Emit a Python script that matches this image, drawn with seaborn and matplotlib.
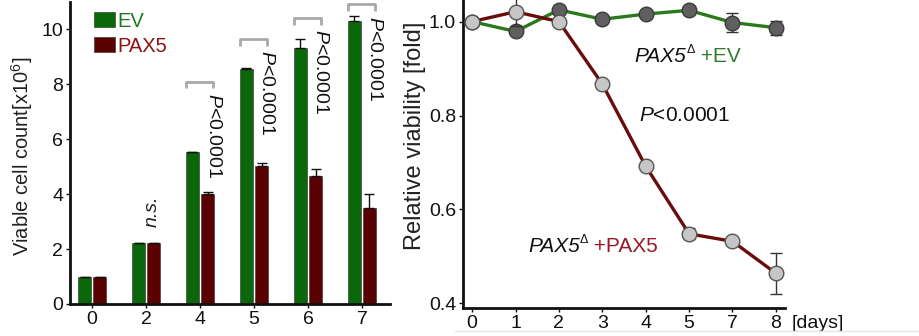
import numpy as np
import pandas as pd
import matplotlib
matplotlib.use("Agg")
import matplotlib.pyplot as plt
from matplotlib.lines import Line2D
import seaborn as sns

# ---- data: left panel (viable cell count, x10^6) ----
count_days = ["0", "2", "4", "5", "6", "7"]
ev_count = [1.0, 2.24, 5.53, 8.55, 9.33, 10.3]
ev_count_err = [0.0, 0.0, 0.02, 0.05, 0.33, 0.19]
pax5_count = [1.0, 2.24, 4.02, 5.04, 4.66, 3.5]
pax5_count_err = [0.0, 0.0, 0.07, 0.1, 0.27, 0.49]
sig_labels = ["", "n.s.", "P<0.0001", "P<0.0001", "P<0.0001", "P<0.0001"]
bracket_tops = [None, None, 8.1, 9.66, 10.43, 10.91]

# ---- data: right panel (relative viability) ----
via_days = ["0", "1", "2", "3", "4", "5", "7", "8"]
ev_via = [1.0, 0.979, 1.025, 1.005, 1.016, 1.024, 0.998, 0.987]
ev_via_err = [0.0, 0.004, 0.003, 0.007, 0.004, 0.003, 0.021, 0.015]
pax5_via = [1.0, 1.021, 1.0, 0.867, 0.692, 0.548, 0.532, 0.464]
pax5_via_err = [0.0, 0.03, 0.003, 0.004, 0.004, 0.012, 0.005, 0.044]

green_bar = "#0a680a"
red_bar = "#5a0202"
green_line = "#2a7a1c"
red_line = "#6a0c0c"

sns.set_theme(style="ticks")
plt.rcParams["font.family"] = ["Liberation Sans", "DejaVu Sans"]
plt.rcParams["mathtext.fontset"] = "custom"
plt.rcParams["mathtext.rm"] = "Liberation Sans"
plt.rcParams["mathtext.it"] = "Liberation Sans:italic"

fig = plt.figure(figsize=(9.2, 3.36), dpi=100)
ax1 = fig.add_axes([70 / 920, 1 - 304 / 336, 320 / 920, 302 / 336])
ax2 = fig.add_axes([463 / 920, 1 - 308 / 336, 322 / 920, 308 / 336])

# ---------------- left: bars ----------------
df = pd.DataFrame({
    "day": count_days * 2,
    "group": ["EV"] * len(count_days) + ["PAX5"] * len(count_days),
    "count": ev_count + pax5_count,
})
sns.barplot(data=df, x="day", y="count", hue="group", ax=ax1,
            palette={"EV": green_bar, "PAX5": red_bar}, errorbar=None,
            width=0.56, gap=0.1, legend=False, saturation=1,
            edgecolor="#2a2a2a", linewidth=0.4)

for cont, errs in zip(ax1.containers, [ev_count_err, pax5_count_err]):
    xs = [b.get_x() + b.get_width() / 2 for b in cont]
    hs = [b.get_height() for b in cont]
    ax1.errorbar(xs, hs, yerr=[np.zeros(len(errs)), errs], fmt="none",
                 ecolor="#111111", elinewidth=1, capsize=3.5, capthick=1)

for i, (lab, top) in enumerate(zip(sig_labels, bracket_tops)):
    if top is not None:
        ax1.plot([i - 0.26, i - 0.26, i + 0.24, i + 0.24],
                 [top - 0.25, top, top, top - 0.25],
                 color="#a9a9a9", lw=2, solid_capstyle="butt")
        ax1.text(i + 0.24, top - 0.42, r"$\mathit{P}$<0.0001", rotation=-90,
                 ha="center", va="top", fontsize=14, color="#111111")
    elif lab:
        ax1.text(i + 0.11, 2.8, lab, rotation=90, ha="center", va="bottom",
                 fontsize=14, style="italic", color="#222222")

leg = ax1.legend(ax1.containers, ["EV", "PAX5"], loc="upper left",
                 bbox_to_anchor=(0.075, 0.968), frameon=False, fontsize=14.5,
                 handlelength=1.05, handleheight=0.8, handletextpad=0.1,
                 labelspacing=0.3, borderpad=0, borderaxespad=0)
for t, c in zip(leg.get_texts(), ["#1d7a1d", "#8c1414"]):
    t.set_color(c)

ax1.set_xlim(-0.41, 5.52)
ax1.set_ylim(0, 11.0)
ax1.set_yticks([0, 2, 4, 6, 8, 10])
ax1.set_xlabel("")
ax1.set_ylabel(r"Viable cell count[x10$^{6}$]", fontsize=14.5, color="#222222")
ax1.yaxis.set_label_coords(-0.11, 0.49)

# ---------------- right: lines ----------------
pos = np.arange(len(via_days))
sns.lineplot(x=pos, y=ev_via, ax=ax2, color=green_line, lw=2.4)
ax2.errorbar(pos, ev_via, yerr=ev_via_err, fmt="o", ms=10.5,
             mfc="#5f5f5f", mec="#3a3a3a", mew=1, ecolor="#333333",
             elinewidth=1, capsize=4, capthick=1, zorder=3)
sns.lineplot(x=pos, y=pax5_via, ax=ax2, color=red_line, lw=2.4)
ax2.errorbar(pos, pax5_via, yerr=pax5_via_err, fmt="o", ms=10.5,
             mfc="#c6c6c6", mec="#555555", mew=1, ecolor="#333333",
             elinewidth=1, capsize=4, capthick=1, zorder=4)

ax2.set_xticks(pos)
ax2.set_xticklabels(via_days)
ax2.set_xlim(-0.21, 7.21)
ax2.set_ylim(0.39, 1.046)
ax2.set_yticks([0.4, 0.6, 0.8, 1.0])
ax2.set_yticklabels(["0.4", "0.6", "0.8", "1.0"])
ax2.set_ylabel("Relative viability [fold]", fontsize=17, color="#222222")
ax2.yaxis.set_label_coords(-0.115, 0.56)


def gene_label(x, y, suffix, color):
    t = ax2.text(x, y, "PAX5", fontsize=15, style="italic", ha="left",
                 va="baseline", color="#111111")
    d = ax2.annotate("\u0394", xy=(1, 0.52), xycoords=t, fontsize=9,
                     ha="left", va="bottom", color="#111111")
    ax2.annotate(suffix, xy=(1, 0), xycoords=(d, t), fontsize=15,
                 ha="left", va="bottom", color=color)


gene_label(3.75, 0.915, " +EV", "#2e7d2e")
gene_label(1.29, 0.51, " +PAX5", "#9e1626")
ax2.text(3.85, 0.80, r"$\mathit{P}$<0.0001", fontsize=15, ha="left",
         va="center", color="#111111")
ax2.annotate("[days]", xy=(1.02, -0.05), xycoords="axes fraction",
             ha="left", va="center", fontsize=14, color="#111111")

for ax in (ax1, ax2):
    sns.despine(ax=ax)
    for s in ("left", "bottom"):
        ax.spines[s].set_linewidth(2)
        ax.spines[s].set_color("#111111")
    ax.tick_params(axis="both", labelsize=14, length=3, width=1,
                   colors="#111111", pad=2)
    ax.set_facecolor("white")

fig.add_artist(Line2D([455 / 920, 1], [1 - 331 / 336] * 2, color="#e6e6e6",
                      lw=1))

fig.savefig("out.png", dpi=100, facecolor="white")
